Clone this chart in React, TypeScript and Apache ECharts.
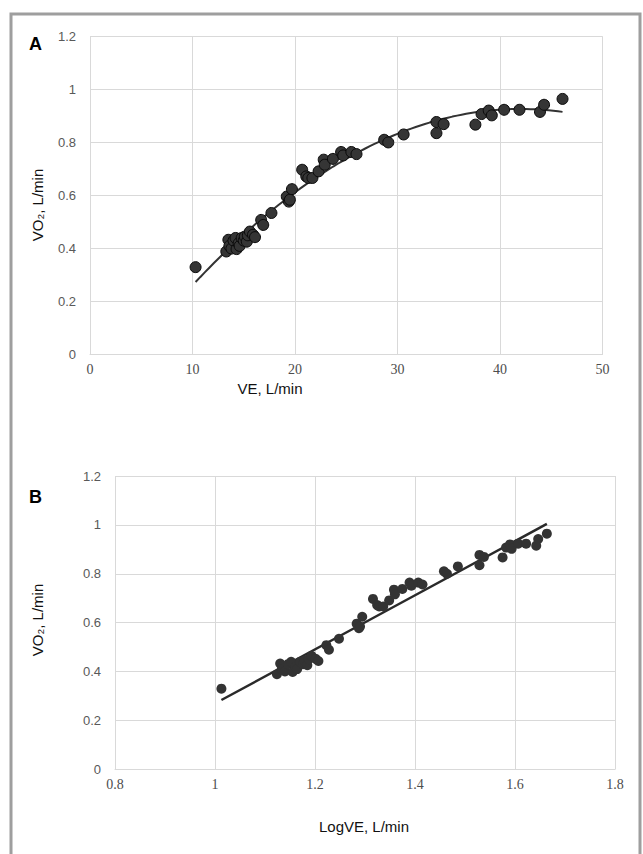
import React, { useEffect, useRef } from 'react';
import * as echarts from 'echarts';

// Minute ventilation (L/min) and oxygen uptake (L/min)
const VE = [
  10.3, 13.3, 13.5, 13.6, 13.8, 14.0, 14.2, 14.3, 14.5, 14.6, 14.8, 15.0, 15.1, 15.3,
  15.4, 15.6, 15.9, 16.1, 16.7, 16.9, 17.7, 19.2, 19.4, 19.5, 19.7, 20.7, 21.1, 21.3,
  21.7, 22.3, 22.8, 22.9, 23.7, 24.5, 24.7, 25.5, 26.0, 28.7, 29.1, 30.6, 33.8, 33.8,
  34.5, 37.6, 38.2, 38.9, 39.2, 40.4, 41.9, 43.9, 44.3, 46.1,
];
const VO2 = [
  0.33, 0.389, 0.433, 0.41, 0.4, 0.43, 0.44, 0.398, 0.42, 0.41, 0.44, 0.43, 0.445, 0.426,
  0.45, 0.464, 0.452, 0.443, 0.508, 0.489, 0.534, 0.596, 0.577, 0.584, 0.624, 0.697, 0.672, 0.666,
  0.666, 0.691, 0.735, 0.716, 0.738, 0.764, 0.751, 0.764, 0.756, 0.81, 0.8, 0.83, 0.877, 0.835,
  0.869, 0.867, 0.907, 0.92, 0.902, 0.923, 0.923, 0.915, 0.942, 0.964,
];

// axis ranges [min, max, interval]
const A_X_AXIS = [0, 50, 10];
const A_Y_AXIS = [0, 1.2, 0.2];
const B_X_AXIS = [0.8, 1.8, 0.2];
const B_Y_AXIS = [0, 1.2, 0.2];

const PANEL_LABELS = ['A', 'B'];
const A_X_TITLE = 'VE, L/min';
const B_X_TITLE = 'LogVE, L/min';
const Y_TITLE = 'VO\u2082, L/min';

function polyfit(xs: number[], ys: number[], deg: number): number[] {
  const n = deg + 1;
  const M: number[][] = Array.from({ length: n }, () => new Array(n + 1).fill(0));
  for (let k = 0; k < xs.length; k++) {
    for (let i = 0; i < n; i++) {
      for (let j = 0; j < n; j++) M[i][j] += Math.pow(xs[k], i + j);
      M[i][n] += ys[k] * Math.pow(xs[k], i);
    }
  }
  for (let i = 0; i < n; i++) {
    let p = i;
    for (let r = i + 1; r < n; r++) if (Math.abs(M[r][i]) > Math.abs(M[p][i])) p = r;
    const t = M[i]; M[i] = M[p]; M[p] = t;
    for (let r = 0; r < n; r++) {
      if (r === i) continue;
      const f = M[r][i] / M[i][i];
      for (let c = i; c <= n; c++) M[r][c] -= f * M[i][c];
    }
  }
  return M.map((row, i) => row[n] / row[i]);
}

function trend(xs: number[], ys: number[], deg: number, steps: number) {
  const coef = polyfit(xs, ys, deg);
  const lo = Math.min(...xs);
  const hi = Math.max(...xs);
  const out: number[][] = [];
  for (let s = 0; s <= steps; s++) {
    const x = lo + ((hi - lo) * s) / steps;
    let y = 0;
    for (let i = 0; i < coef.length; i++) y += coef[i] * Math.pow(x, i);
    out.push([x, y]);
  }
  return out;
}

export default function App() {
  const ref = useRef<HTMLDivElement>(null);
  useEffect(() => {
    if (!ref.current) return;
    const chart = echarts.init(ref.current, null, { renderer: 'svg' });
    const LOG_VE = VE.map((v) => Math.log10(v));
    const ptsA = VE.map((v, i) => [v, VO2[i]]);
    const ptsB = LOG_VE.map((v, i) => [v, VO2[i]]);
    const gridColor = '#d9d9d9';
    const yLabel = { color: '#595959', fontSize: 13, fontFamily: 'Liberation Sans', margin: 14 };
    const xLabel = { color: '#4d4d4d', fontSize: 14, fontFamily: 'Liberation Serif', margin: 8 };
    const mkX = (r: number[], gi: number) => ({
      type: 'value', gridIndex: gi, min: r[0], max: r[1], interval: r[2],
      axisLine: { show: true, lineStyle: { color: gridColor, width: 1 } },
      axisTick: { show: false },
      splitLine: { show: true, lineStyle: { color: gridColor, width: 1 } },
      axisLabel: xLabel,
    });
    const mkY = (r: number[], gi: number) => ({
      type: 'value', gridIndex: gi, min: r[0], max: r[1], interval: r[2],
      axisLine: { show: false },
      axisTick: { show: false },
      splitLine: { show: true, lineStyle: { color: gridColor, width: 1 } },
      axisLabel: yLabel,
    });
    const titleStyle = { fill: '#111', fontSize: 15, fontFamily: 'Liberation Sans' };
    chart.setOption({
      animation: false,
      backgroundColor: '#fff',
      grid: [
        { left: 90, right: 40.5, top: 36.3, height: 318.4 },
        { left: 115, right: 28, top: 476, height: 293.3 },
      ],
      xAxis: [mkX(A_X_AXIS, 0), mkX(B_X_AXIS, 1)],
      yAxis: [mkY(A_Y_AXIS, 0), mkY(B_Y_AXIS, 1)],
      series: [
        {
          type: 'line', xAxisIndex: 0, yAxisIndex: 0, data: trend(VE, VO2, 2, 80),
          showSymbol: false, lineStyle: { color: '#333', width: 2 }, z: 2,
        },
        {
          type: 'scatter', xAxisIndex: 0, yAxisIndex: 0, data: ptsA, symbolSize: 11,
          itemStyle: { color: '#353535', borderColor: '#0a0a0a', borderWidth: 1, opacity: 1 }, z: 3,
        },
        {
          type: 'line', xAxisIndex: 1, yAxisIndex: 1, data: trend(LOG_VE, VO2, 1, 2),
          showSymbol: false, lineStyle: { color: '#2a2a2a', width: 2.5 }, z: 2,
        },
        {
          type: 'scatter', xAxisIndex: 1, yAxisIndex: 1, data: ptsB, symbolSize: 10,
          itemStyle: { color: '#333', opacity: 1 }, z: 3,
        },
      ],
      graphic: [
        {
          type: 'rect', shape: { x: 11, y: 14, width: 629, height: 860 },
          style: { fill: 'none', stroke: '#9e9e9e', lineWidth: 3 }, silent: true, z: 10,
        },
        { type: 'text', x: 29, y: 35, style: { text: PANEL_LABELS[0], fill: '#000', fontSize: 18, fontWeight: 'bold', fontFamily: 'Liberation Sans' } },
        { type: 'text', x: 29, y: 488, style: { text: PANEL_LABELS[1], fill: '#000', fontSize: 18, fontWeight: 'bold', fontFamily: 'Liberation Sans' } },
        { type: 'text', x: 270, y: 388, style: { ...titleStyle, text: A_X_TITLE, align: 'center', verticalAlign: 'middle' } },
        { type: 'text', x: 364, y: 826, style: { ...titleStyle, text: B_X_TITLE, align: 'center', verticalAlign: 'middle' } },
        { type: 'text', x: 37, y: 205, rotation: Math.PI / 2, style: { ...titleStyle, text: Y_TITLE, align: 'center', verticalAlign: 'middle' } },
        { type: 'text', x: 37, y: 620, rotation: Math.PI / 2, style: { ...titleStyle, text: Y_TITLE, align: 'center', verticalAlign: 'middle' } },
      ],
    });
    return () => chart.dispose();
  }, []);
  return <div ref={ref} style={{ position: 'absolute', left: 0, top: 0, width: 643, height: 854 }} />;
}
